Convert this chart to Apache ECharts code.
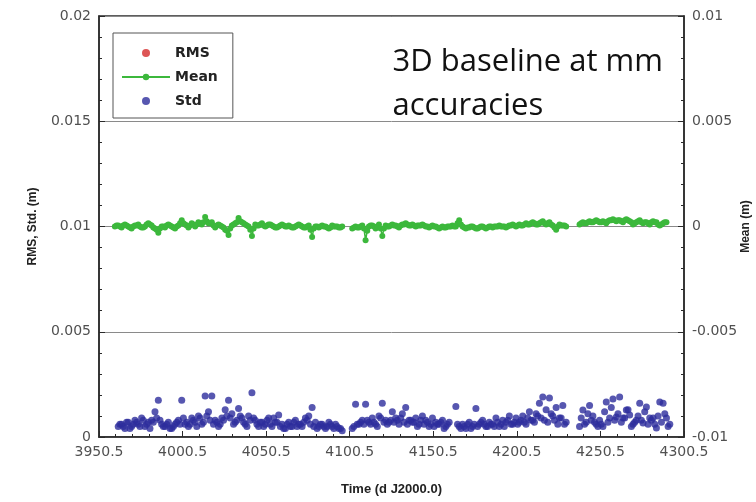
<!DOCTYPE html>
<html>
<head>
<meta charset="utf-8">
<script src="https://cdn.jsdelivr.net/npm/echarts@6/dist/echarts.min.js"></script>
<style>
  html, body { margin: 0; padding: 0; background: #fff; }
  #chart { width: 756px; height: 502px; }
</style>
</head>
<body>
<div id="chart"></div>
<script>
// x axis (days, J2000.0)
const xMin = 3950.5;
const xMax = 4300.5;
const xStep = 50;

// Std (mm): per segment, values on even days from the start day and on the odd days between
const stdStarts = [3962, 4102, 4164, 4238];
const stdSeg1 = [0.5, 0.6, 0.4, 0.7, 0.5, 0.8, 0.6, 0.9, 0.5, 0.7, 0.8, 1.2, 1.75, 0.6, 0.5, 0.7, 0.4, 0.6, 0.8, 1.75,
  0.6, 0.5, 0.9, 0.7, 1.0, 0.6, 1.95, 1.2, 1.95, 0.8, 0.5, 0.9, 1.3, 1.75, 1.1, 0.7, 1.35, 0.9, 0.6, 1.0,
  2.1, 0.8, 0.5, 0.7, 0.6, 0.9, 0.5, 0.7, 1.05, 0.6, 0.4, 0.7, 0.5, 0.8, 0.6, 0.5, 0.9, 1.0, 1.4, 0.7,
  0.5, 0.6, 0.4, 0.7, 0.5, 0.6, 0.4, 0.3];
const stdSeg1Odd = [0.6, 0.5, 0.7, 0.4, 0.6, 0.7, 0.5, 0.8, 0.6, 0.4, 0.7, 0.9, 0.8, 0.5, 0.6, 0.4, 0.5, 0.7, 0.6, 0.9,
  0.7, 0.6, 0.8, 0.5, 0.9, 0.7, 1.0, 0.8, 0.6, 0.7, 0.6, 0.8, 1.0, 0.9, 0.6, 0.8, 1.0, 0.7, 0.5, 0.8,
  0.9, 0.6, 0.7, 0.5, 0.8, 0.6, 0.9, 0.7, 0.5, 0.4, 0.6, 0.5, 0.7, 0.5, 0.6, 0.7, 0.8, 0.6, 0.5, 0.4,
  0.6, 0.5, 0.5, 0.6, 0.4, 0.5, 0.4];
const stdSeg2 = [0.4, 1.55, 0.6, 0.8, 1.55, 0.7, 0.9, 0.6, 1.0, 1.6, 0.8, 0.7, 1.2, 0.9, 0.6, 1.1, 1.4, 0.8, 0.7, 0.9,
  0.6, 1.0, 0.8, 0.5, 0.9, 0.7, 0.6, 0.8, 0.5, 0.7];
const stdSeg2Odd = [0.5, 0.6, 0.7, 0.6, 0.8, 0.6, 0.7, 0.5, 0.9, 0.7, 0.6, 0.8, 0.7, 0.8, 0.9, 0.7, 0.6, 0.8, 0.7, 0.5,
  0.8, 0.6, 0.7, 0.6, 0.5, 0.6, 0.7, 0.4, 0.6];
const stdSeg3 = [1.45, 0.5, 0.6, 0.4, 0.7, 0.5, 1.35, 0.6, 0.8, 0.5, 0.7, 0.6, 0.9, 0.5, 0.8, 0.7, 1.0, 0.6, 0.9, 0.7,
  1.0, 0.6, 1.2, 0.8, 1.1, 1.6, 1.9, 1.3, 1.85, 1.0, 1.4, 0.9, 1.5, 0.7];
const stdSeg3Odd = [0.6, 0.4, 0.5, 0.6, 0.4, 0.6, 0.5, 0.7, 0.6, 0.5, 0.6, 0.5, 0.7, 0.6, 0.5, 0.8, 0.6, 0.7, 0.6, 0.8,
  0.7, 0.9, 0.8, 0.7, 1.0, 0.9, 0.8, 0.7, 1.1, 0.8, 0.6, 0.9, 0.6];
const stdSeg4 = [0.5, 1.28, 0.7, 1.5, 1.0, 0.6, 0.8, 0.5, 1.66, 0.9, 1.8, 0.95, 1.9, 0.9, 1.28, 1.04, 0.6, 0.8, 1.6, 0.66,
  1.42, 0.9, 0.9, 0.43, 1.66, 1.6, 0.9, 0.6];
const stdSeg4Odd = [0.9, 0.6, 1.1, 0.8, 0.7, 0.5, 0.6, 1.2, 0.7, 1.4, 0.8, 1.1, 0.7, 0.9, 1.3, 0.5, 0.7, 1.0, 0.8, 1.2,
  0.6, 0.8, 0.6, 1.0, 0.7, 1.1, 0.5];

// Mean (mm), same layout
const meanStarts = [3960, 4102, 4238];
const meanSeg1 = [0.0, 0.05, -0.05, 0.1, 0.0, -0.1, 0.05, 0.1, -0.05, 0.0, 0.15, 0.05, -0.1, -0.3, 0.0, -0.05, 0.1, 0.0, -0.1, 0.05,
  0.3, 0.1, -0.05, 0.15, 0.0, 0.2, 0.1, 0.45, 0.15, 0.2, -0.05, 0.1, 0.0, -0.15, -0.4, 0.05, 0.15, 0.4, 0.2, 0.1,
  0.0, -0.45, 0.1, 0.05, 0.15, 0.0, 0.1, 0.05, -0.05, 0.0, 0.1, 0.0, 0.05, -0.05, 0.0, 0.1, 0.0, -0.05, 0.05, -0.5,
  0.0, -0.05, 0.05, 0.0, -0.1, 0.05, 0.0, -0.05, 0.0];
const meanSeg1Odd = [0.05, 0.0, 0.05, 0.05, -0.05, 0.0, 0.05, 0.0, -0.05, 0.1, 0.1, -0.05, -0.15, -0.1, 0.0, 0.05, 0.05, -0.05, 0.0, 0.15,
  0.15, 0.05, 0.05, 0.1, 0.1, 0.15, 0.2, 0.25, 0.15, 0.05, 0.05, 0.05, -0.05, -0.2, -0.1, 0.1, 0.2, 0.25, 0.15, 0.05,
  -0.15, -0.1, 0.05, 0.1, 0.05, 0.05, 0.1, 0.0, -0.05, 0.05, 0.05, 0.0, 0.0, -0.05, 0.05, 0.05, -0.05, 0.0, -0.15, -0.1,
  0.0, 0.0, 0.0, -0.05, -0.05, 0.0, 0.0, -0.05];
const meanSeg2 = [-0.1, 0.0, -0.05, 0.05, -0.65, 0.0, 0.05, -0.1, 0.1, -0.45, 0.05, 0.0, 0.1, 0.05, -0.05, 0.1, 0.15, 0.05, 0.1, 0.0,
  0.05, 0.1, 0.0, -0.05, 0.05, 0.0, -0.1, 0.0, -0.05, 0.0, 0.05, 0.0, 0.3, 0.0, -0.1, -0.05, 0.0, -0.1, -0.05, 0.0,
  -0.1, 0.0, -0.05, 0.0, 0.05, 0.0, -0.05, 0.05, 0.1, 0.0, 0.1, 0.05, 0.15, 0.1, 0.2, 0.1, 0.15, 0.25, 0.1, 0.2,
  0.05, -0.15, 0.1, 0.05, 0.0];
const meanSeg2Odd = [-0.05, -0.05, 0.0, -0.1, -0.2, 0.05, 0.0, 0.0, -0.1, -0.1, 0.0, 0.05, 0.05, 0.0, 0.05, 0.1, 0.1, 0.05, 0.05, 0.05,
  0.05, 0.05, 0.0, 0.0, 0.0, -0.05, -0.05, -0.05, 0.0, 0.0, 0.0, 0.15, 0.1, -0.05, -0.05, 0.0, -0.05, -0.1, 0.0, -0.05,
  -0.05, 0.0, 0.0, 0.0, 0.0, 0.0, 0.0, 0.05, 0.05, 0.05, 0.05, 0.1, 0.1, 0.15, 0.15, 0.1, 0.2, 0.15, 0.15, 0.1,
  -0.05, 0.0, 0.05, 0.05];
const meanSeg3 = [0.1, 0.2, 0.15, 0.25, 0.2, 0.3, 0.2, 0.25, 0.15, 0.3, 0.35, 0.25, 0.3, 0.2, 0.35, 0.25, 0.1, 0.2, 0.3, 0.15,
  0.2, 0.1, 0.25, 0.2, 0.05, 0.15, 0.2];
const meanSeg3Odd = [0.15, 0.15, 0.2, 0.2, 0.25, 0.25, 0.2, 0.2, 0.25, 0.3, 0.3, 0.3, 0.25, 0.3, 0.3, 0.2, 0.15, 0.25, 0.2, 0.2,
  0.15, 0.2, 0.2, 0.1, 0.1, 0.2];

const legendNames = ["RMS", "Mean", "Std"];
const noteText = "3D baseline at mm\naccuracies";

// 偶数天和奇数天交错拼成 [day, value]，段与段之间断开
function joinSegments(starts, evens, odds, withBreak) {
  const out = [];
  evens.forEach((seg, k) => {
    seg.forEach((v, i) => {
      out.push([starts[k] + 2 * i, v]);
      if (i < odds[k].length) out.push([starts[k] + 2 * i + 1, odds[k][i]]);
    });
    if (withBreak) out.push([starts[k] + 2 * seg.length, "-"]);
  });
  return out;
}

const stdData = joinSegments(stdStarts,
  [stdSeg1, stdSeg2, stdSeg3, stdSeg4], [stdSeg1Odd, stdSeg2Odd, stdSeg3Odd, stdSeg4Odd], false);
const meanData = joinSegments(meanStarts,
  [meanSeg1, meanSeg2, meanSeg3], [meanSeg1Odd, meanSeg2Odd, meanSeg3Odd], true);

const labelFont = { color: "#505050", fontSize: 14, fontFamily: "DejaVu Sans" };
const nameFont = { color: "#222", fontSize: 12, fontWeight: "bold", fontFamily: "Liberation Sans" };
const axisDark = { lineStyle: { color: "#2a2a2a", width: 1.5 } };
const tickIn = { inside: true, length: 6, lineStyle: { color: "#2a2a2a" } };
const minorIn = { show: true, splitNumber: 5, length: 3, lineStyle: { color: "#2a2a2a" } };

const chart = echarts.init(document.getElementById("chart"));
chart.setOption({
  animation: false,
  backgroundColor: "#fff",
  grid: {
    left: 99, right: 72, top: 16, bottom: 65,
    outerBoundsMode: "none",
    show: true, borderColor: "#2a2a2a", borderWidth: 1.5
  },
  legend: {
    data: legendNames,
    orient: "vertical",
    left: 113, top: 33,
    padding: [13, 15, 10, 8],
    itemWidth: 48, itemHeight: 8, itemGap: 10,
    backgroundColor: "#fff",
    borderColor: "#555", borderWidth: 1,
    textStyle: { color: "#222", fontSize: 14, fontWeight: "bold", fontFamily: "DejaVu Sans" }
  },
  graphic: [{
    type: "text",
    right: 93, top: 40,
    style: {
      text: noteText,
      align: "right",
      fill: "#111",
      font: "31px 'Open Sans'",
      lineHeight: 44
    }
  }],
  xAxis: {
    type: "value",
    min: xMin, max: xMax, interval: xStep,
    name: "Time (d J2000.0)",
    nameLocation: "middle", nameGap: 46,
    nameTextStyle: Object.assign({}, nameFont, { fontSize: 13 }),
    axisLine: axisDark,
    axisTick: tickIn,
    minorTick: minorIn,
    axisLabel: Object.assign({ margin: 8, formatter: v => v.toFixed(1) }, labelFont),
    splitLine: { show: false }
  },
  yAxis: [{
    type: "value",
    min: 0, max: 20, interval: 5,
    name: "RMS, Std. (m)",
    nameLocation: "middle", nameGap: 60, nameRotate: 90,
    nameTextStyle: nameFont,
    axisLine: axisDark,
    axisTick: tickIn,
    minorTick: minorIn,
    axisLabel: Object.assign({ margin: 8, formatter: v => String(v / 1000) }, labelFont),
    splitLine: { show: true, lineStyle: { color: "#8a8a8a", width: 1 } }
  }, {
    type: "value",
    position: "right",
    min: -10, max: 10, interval: 5,
    name: "Mean (m)",
    nameLocation: "middle", nameGap: 56, nameRotate: 90,
    nameMoveOverlap: false,
    nameTextStyle: nameFont,
    axisLine: axisDark,
    axisTick: tickIn,
    minorTick: minorIn,
    axisLabel: Object.assign({ margin: 8, formatter: v => String(v / 1000) }, labelFont),
    splitLine: { show: false }
  }],
  series: [
    {
      name: "RMS",
      type: "scatter",
      yAxisIndex: 0,
      data: [],
      symbolSize: 7,
      itemStyle: { color: "#d42a2a" }
    },
    {
      name: "Mean",
      type: "line",
      yAxisIndex: 1,
      data: meanData,
      connectNulls: false,
      showAllSymbol: true,
      symbol: "circle",
      symbolSize: 6,
      lineStyle: { color: "#3cb83c", width: 1.5 },
      itemStyle: { color: "#3cb83c" }
    },
    {
      name: "Std",
      type: "scatter",
      yAxisIndex: 0,
      data: stdData,
      symbolSize: 7,
      itemStyle: { color: "#2d2d9c" }
    }
  ]
});
</script>
</body>
</html>
